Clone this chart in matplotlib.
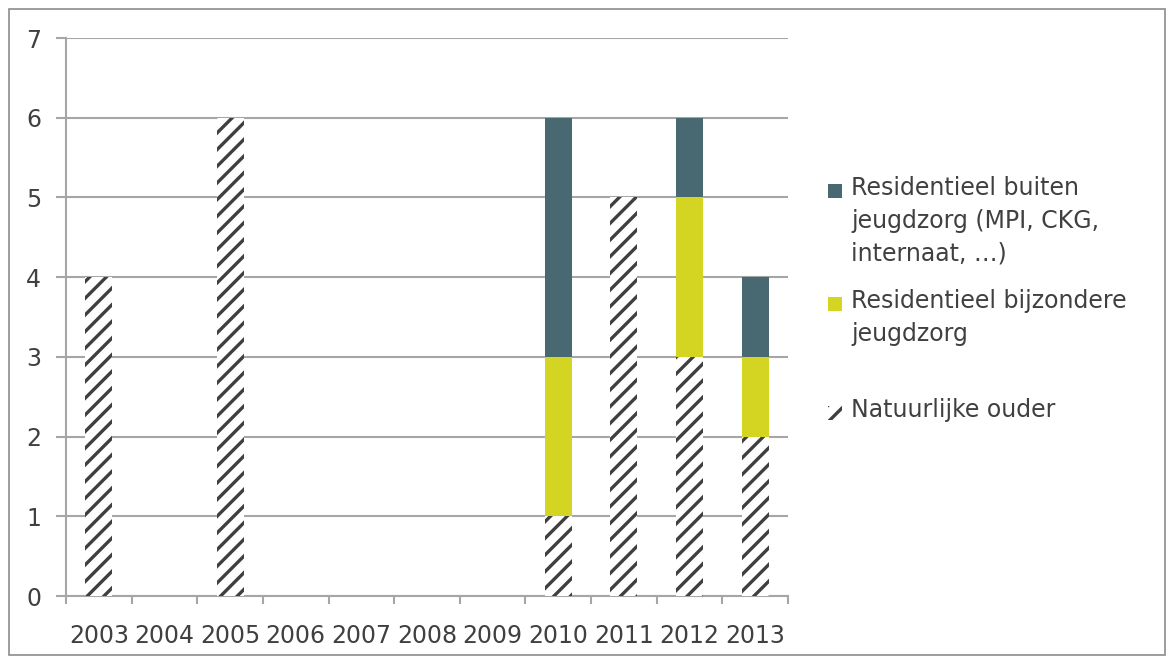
import numpy as np
import matplotlib.pyplot as plt
from matplotlib.patches import Rectangle

plt.rcParams['font.family'] = ['DejaVu Sans']
plt.rcParams['hatch.linewidth'] = 2.4

years = ['2003', '2004', '2005', '2006', '2007', '2008', '2009', '2010', '2011', '2012', '2013']
natuurlijke_ouder = [4, 0, 6, 0, 0, 0, 0, 1, 5, 3, 2]
bijzondere_jeugdzorg = [0, 0, 0, 0, 0, 0, 0, 2, 0, 2, 1]
buiten_jeugdzorg = [0, 0, 0, 0, 0, 0, 0, 3, 0, 1, 1]

lab_buiten = 'Residentieel buiten\njeugdzorg (MPI, CKG,\ninternaat, …)'
lab_bijz = 'Residentieel bijzondere\njeugdzorg'
lab_ouder = 'Natuurlijke ouder'

col_buiten = '#486872'
col_bijz = '#d4d522'
hatch_col = '#3f3f3f'
grid_col = '#a6a6a6'
txt_col = '#404040'

fig = plt.figure(figsize=(11.7, 6.59), dpi=100)
ax = fig.add_axes([66/1170, 1-596/659, (788-66)/1170, (596-38)/659])

x = np.arange(len(years))
w = 0.41
nat = np.array(natuurlijke_ouder)
bij = np.array(bijzondere_jeugdzorg)
bui = np.array(buiten_jeugdzorg)

ax.bar(x, nat, w, color='white', hatch='//', edgecolor=hatch_col, linewidth=0, zorder=3)
ax.bar(x, bij, w, bottom=nat, color=col_bijz, edgecolor='none', zorder=3)
ax.bar(x, bui, w, bottom=nat+bij, color=col_buiten, edgecolor='none', zorder=3)

ax.set_xlim(-0.5, len(years)-0.5)
ax.set_ylim(0, 7)
ax.set_yticks(range(8))
ax.set_xticks(x)
ax.set_xticklabels(years)
ax.set_xticks(np.arange(-0.5, len(years), 1), minor=True)
ax.yaxis.grid(True, color=grid_col, linewidth=1.5, zorder=0)
ax.set_axisbelow(True)

for s in ['top', 'right']:
    ax.spines[s].set_visible(False)
for s in ['left', 'bottom']:
    ax.spines[s].set_color(grid_col)
    ax.spines[s].set_linewidth(1.5)

ax.tick_params(axis='y', length=7, width=1.5, color=grid_col, labelsize=17, labelcolor=txt_col, pad=11)
ax.tick_params(axis='x', which='major', length=0, labelsize=17, labelcolor=txt_col, pad=20)
ax.tick_params(axis='x', which='minor', length=6, width=1.5, color=grid_col)

# legend, drawn by hand so the key sits next to the first line of each label
entries = [(lab_buiten, dict(facecolor=col_buiten, edgecolor='none'), 191),
           (lab_bijz, dict(facecolor=col_bijz, edgecolor='none'), 304),
           (lab_ouder, dict(facecolor='white', edgecolor=hatch_col, hatch='//', linewidth=0), 413)]
for lab, kw, ypix in entries:
    fig.patches.append(Rectangle((828/1170, 1-(ypix+7)/659), 14/1170, 14/659,
                                 transform=fig.transFigure, **kw))
    fig.text(851/1170, 1-(ypix-15)/659, lab, fontsize=17, color=txt_col,
             va='top', ha='left', linespacing=1.45)

fig.patches.append(Rectangle((9/1170, 4/659), 1156/1170, 646/659, transform=fig.transFigure,
                             fill=False, edgecolor='#8c8c8c', linewidth=1.2))

fig.savefig('out.png', dpi=100)
